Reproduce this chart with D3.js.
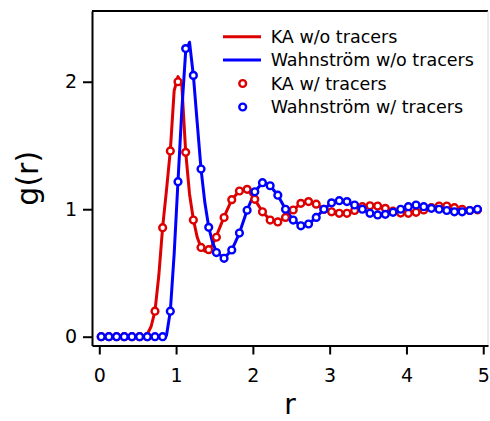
<!DOCTYPE html>
<html lang="en">
<head>
<meta charset="UTF-8">
<title>g(r)</title>
<script src="https://cdn.jsdelivr.net/npm/d3@7/dist/d3.min.js"></script>
<style>
    body { margin: 0; background: #fff; }
    svg { display: block; font-family: "DejaVu Sans", sans-serif; }
    .axis path, .axis line { stroke: #000; stroke-width: 2px; }
    .axis text { font-size: 19px; fill: #000; }
</style>
</head>
<body>
<script>
    const width = 490;
    const height = 421;

    // runs with tracers (open circles)
    const tracerR = [0.025, 0.125, 0.225, 0.325, 0.425, 0.525, 0.625, 0.725, 0.825, 0.925,
        1.025, 1.125, 1.225, 1.325, 1.425, 1.525, 1.625, 1.725, 1.825, 1.925,
        2.025, 2.125, 2.225, 2.325, 2.425, 2.525, 2.625, 2.725, 2.825, 2.925,
        3.025, 3.125, 3.225, 3.325, 3.425, 3.525, 3.625, 3.725, 3.825, 3.925,
        4.025, 4.125, 4.225, 4.325, 4.425, 4.525, 4.625, 4.725, 4.825, 4.925];
    const kaTracer = [0, 0, 0, 0, 0, 0, 0, 0.2, 0.855, 1.457,
        2.0, 1.446, 0.915, 0.70, 0.683, 0.78, 0.935, 1.075, 1.143, 1.156,
        1.078, 0.98, 0.915, 0.90, 0.936, 0.994, 1.046, 1.06, 1.04, 1.0,
        0.98, 0.968, 0.968, 0.99, 1.02, 1.027, 1.025, 1.007, 0.985, 0.97,
        0.968, 0.976, 0.994, 1.012, 1.025, 1.025, 1.012, 1.0, 0.99, 0.995];
    const wTracer = [0, 0, 0, 0, 0, 0, 0, 0, 0, 0.2,
        1.216, 2.26, 2.05, 1.315, 0.858, 0.66, 0.615, 0.68, 0.813, 0.992,
        1.137, 1.208, 1.184, 1.11, 1.0, 0.915, 0.87, 0.884, 0.936, 1.0,
        1.05, 1.067, 1.06, 1.033, 1.0, 0.968, 0.955, 0.96, 0.976, 1.0,
        1.02, 1.033, 1.02, 1.007, 1.0, 0.99, 0.98, 0.98, 0.99, 1.0];

    // runs without tracers (lines), finer near the first peak
    const lineR = [0.025, 0.525, 0.575, 0.625, 0.675, 0.725, 0.775, 0.825, 0.875, 0.925,
        0.975, 1.025, 1.075, 1.125, 1.175, 1.225, 1.275, 1.325, 1.375, 1.425,
        1.475, 1.525, 1.625, 1.725, 1.825, 1.925, 2.025, 2.125, 2.225, 2.325,
        2.425, 2.525, 2.625, 2.725, 2.825, 2.925, 3.025, 3.125, 3.225, 3.325,
        3.425, 3.525, 3.625, 3.725, 3.825, 3.925, 4.025, 4.125, 4.225, 4.325,
        4.425, 4.525, 4.625, 4.725, 4.825, 4.925];
    const kaLine = [0, 0, 0, 0.02, 0.08, 0.2, 0.48, 0.86, 1.15, 1.46,
        1.93, 2.04, 1.97, 1.45, 1.12, 0.92, 0.78, 0.70, 0.67, 0.68,
        0.72, 0.79, 0.94, 1.075, 1.145, 1.158, 1.075, 0.98, 0.915, 0.90,
        0.935, 0.995, 1.045, 1.06, 1.04, 1.0, 0.98, 0.968, 0.968, 0.99,
        1.018, 1.028, 1.025, 1.007, 0.985, 0.97, 0.968, 0.976, 0.994, 1.012,
        1.025, 1.025, 1.012, 1.0, 0.99, 0.995];
    const wLine = [0, 0, 0, 0, 0, 0, 0, 0, 0.01, 0.2,
        0.65, 1.22, 1.78, 2.24, 2.31, 2.05, 1.68, 1.315, 1.05, 0.86,
        0.74, 0.665, 0.615, 0.68, 0.813, 0.992, 1.137, 1.208, 1.184, 1.11,
        1.0, 0.915, 0.87, 0.884, 0.936, 1.0, 1.05, 1.067, 1.06, 1.033,
        1.0, 0.968, 0.955, 0.96, 0.976, 1.0, 1.02, 1.033, 1.02, 1.007,
        1.0, 0.99, 0.98, 0.98, 0.99, 1.0];

    const xTicks = [0, 1, 2, 3, 4, 5];
    const yTicks = [0, 1, 2];
    const legendLabels = ['KA w/o tracers', 'Wahnström w/o tracers', 'KA w/ tracers', 'Wahnström w/ tracers'];

    const red = '#dd0000';
    const blue = '#0000ff';

    // plot frame in pixels
    const frameL = 92, frameR = 488, frameT = 11, frameB = 345.5;

    const x = d3.scaleLinear().domain([-0.095, 5.062]).range([frameL, frameR]);
    const y = d3.scaleLinear().domain([-0.069, 2.555]).range([frameB, frameT]);

    let svg = d3.select('body')
        .append('svg')
        .attr('width', width)
        .attr('height', height);

    // top and right edges of the frame
    svg.append('line')
        .attr('x1', frameL).attr('x2', frameR)
        .attr('y1', frameT).attr('y2', frameT)
        .attr('stroke', '#000').attr('stroke-width', 2);
    svg.append('line')
        .attr('x1', frameR).attr('x2', frameR)
        .attr('y1', frameT).attr('y2', frameB)
        .attr('stroke', '#d4d4d4').attr('stroke-width', 1);

    svg.append('g')
        .attr('class', 'axis')
        .attr('transform', 'translate(0,' + frameB + ')')
        .call(d3.axisBottom(x).tickValues(xTicks).tickFormat(d3.format('d'))
            .tickSize(9).tickSizeOuter(0).tickPadding(14));

    svg.append('g')
        .attr('class', 'axis')
        .attr('transform', 'translate(' + frameL + ',0)')
        .call(d3.axisLeft(y).tickValues(yTicks).tickFormat(d3.format('d'))
            .tickSize(9).tickSizeOuter(0).tickPadding(6));

    svg.selectAll('.axis').attr('font-family', null).attr('font-size', null);

    // axis titles
    svg.append('text')
        .attr('x', (frameL + frameR) / 2)
        .attr('y', 414)
        .attr('text-anchor', 'middle')
        .style('font-size', '28px')
        .text('r');

    svg.append('text')
        .attr('transform', 'translate(38,' + (frameT + frameB) / 2 + ') rotate(-90)')
        .attr('text-anchor', 'middle')
        .style('font-size', '30px')
        .text('g(r)');

    // lines
    const lineGen = g => d3.line()
        .x((d, i) => x(lineR[i]))
        .y((d, i) => y(g[i]));

    [[kaLine, red], [wLine, blue]].forEach(([g, c]) => {
        svg.append('path')
            .datum(g)
            .attr('d', lineGen(g))
            .attr('fill', 'none')
            .attr('stroke', c)
            .attr('stroke-width', 3)
            .attr('stroke-linejoin', 'round');
    });

    // markers
    [[kaTracer, red], [wTracer, blue]].forEach(([g, c]) => {
        svg.append('g')
            .selectAll('circle')
            .data(g)
            .enter()
            .append('circle')
            .attr('cx', (d, i) => x(tracerR[i]))
            .attr('cy', d => y(d))
            .attr('r', 3.4)
            .attr('fill', '#fff')
            .attr('stroke', c)
            .attr('stroke-width', 2.4);
    });

    // legend
    const rowY = [36.7, 60, 83.5, 107];
    const legend = svg.append('g')
        .selectAll('g')
        .data(legendLabels)
        .enter()
        .append('g')
        .attr('transform', (d, i) => 'translate(0,' + rowY[i] + ')');

    legend.filter((d, i) => i < 2)
        .append('line')
        .attr('x1', 223).attr('x2', 261)
        .attr('stroke', (d, i) => i === 0 ? red : blue)
        .attr('stroke-width', 3);

    legend.filter((d, i) => i >= 2)
        .append('circle')
        .attr('cx', 242.7)
        .attr('r', 3.4)
        .attr('fill', '#fff')
        .attr('stroke', (d, i) => i === 0 ? red : blue)
        .attr('stroke-width', 2.4);

    legend.append('text')
        .attr('x', 270.7)
        .attr('y', 6.4)
        .style('font-size', '17.5px')
        .text(d => d);
</script>
</body>
</html>
